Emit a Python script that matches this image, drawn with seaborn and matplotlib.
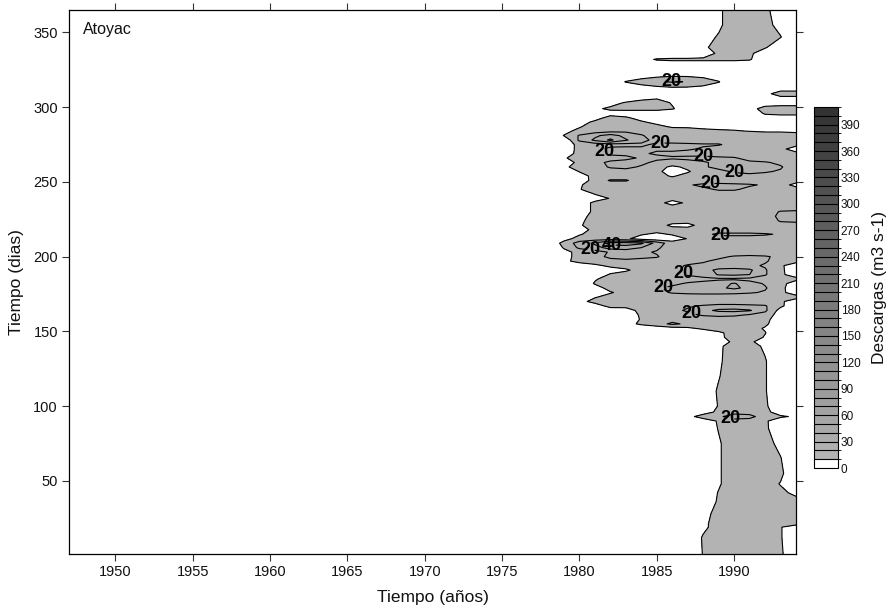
import numpy as np
import matplotlib
matplotlib.use("Agg")
import matplotlib.pyplot as plt
from matplotlib.colors import ListedColormap, BoundaryNorm
import seaborn as sns

# ---------------- data ----------------
anios = [1978, 1979, 1980, 1981, 1982, 1983, 1984, 1985, 1986,
         1987, 1988, 1989, 1990, 1991, 1992, 1993, 1994]

dias = [365, 355, 347, 340, 336, 332, 328, 322, 317, 312, 309, 306, 303,
        299, 296, 293, 290, 287, 284, 281, 278, 275, 272, 269, 266, 263,
        260, 257, 254, 251, 248, 245, 242, 239, 236, 233, 230, 227, 224,
        221, 218, 215, 212, 209, 206, 203, 200, 197, 194, 191, 188, 185,
        182, 179, 176, 173, 170, 167, 164, 161, 158, 155, 152, 149, 146,
        143, 140, 130, 120, 110, 100, 96, 93, 90, 85, 75, 65, 55, 48, 42,
        36, 28, 21, 19, 12, 1]

# discharge (m3 s-1); one row per day in `dias`, one column per year in `anios`
caudal = [
    [0, 0, 0, 0, 0, 0, 0, 0, 0, 0, 0, 8, 16, 16, 13, 3, 0],          # 365
    [0, 0, 0, 0, 0, 0, 0, 0, 0, 0, 0, 8, 16, 16, 14, 6, 0],          # 355
    [0, 0, 0, 0, 0, 0, 0, 0, 0, 0, 6, 11, 16, 16, 16, 10.5, 0],      # 347
    [0, 0, 0, 0, 0, 0, 0, 0, 0, 0, 8, 14, 16, 15, 11, 3, 0],         # 340
    [0, 0, 0, 0, 0, 0, 0, 0, 0, 0, 4, 12, 14, 12, 4, 0, 0],          # 336
    [0, 0, 0, 0, 0, 0, 6, 11, 12, 12, 12, 12, 12, 11, 3, 0, 0],      # 332
    [0, 0, 0, 0, 0, 0, 2, 3, 3, 3, 3, 3, 3, 3, 0, 0, 0],             # 328
    [0, 0, 0, 0, 0, 2, 4, 5, 6, 6, 5, 4, 2, 0, 0, 0, 0],             # 322
    [0, 0, 0, 0, 3, 10.5, 14, 18, 21, 19.5, 16, 10.5, 3, 0, 0, 0, 0],# 317
    [0, 0, 0, 0, 0, 2, 4, 5, 6, 6, 5, 4, 2, 0, 0, 6, 6],             # 312
    [0, 0, 0, 0, 0, 0, 0, 0, 0, 0, 0, 0, 0, 0, 6, 16, 16],           # 309
    [0, 0, 0, 0, 0, 3, 7, 9, 5, 2, 0, 0, 0, 0, 0, 6, 6],             # 306
    [0, 0, 0, 0, 6, 11, 14, 15, 9, 4, 0, 0, 0, 0, 4, 4, 4],          # 303
    [0, 0, 0, 8, 12, 13, 14, 14, 11, 4, 0, 0, 0, 6, 14, 16, 16],     # 299
    [0, 0, 0, 2, 6, 5, 3, 3, 2, 0, 0, 0, 0, 5, 11, 12, 12],          # 296
    [0, 0, 0, 6, 13, 11, 7, 4, 3, 2, 2, 2, 2, 3, 7, 7, 7],           # 293
    [0, 0, 6, 12, 16, 15, 11, 8, 6, 5, 5, 5, 5, 5, 5, 5, 5],         # 290
    [0, 3, 9, 15, 16, 15, 14, 12, 9, 9, 8, 8, 8, 8, 8, 8, 8],        # 287
    [0, 7, 13, 15, 17, 18, 16, 15, 14, 13, 12, 11, 10.5, 9.8, 9, 9, 8],  # 284
    [0, 10.5, 21, 28, 34, 27, 21, 15, 14, 14, 14, 14, 14, 14, 14, 14, 14],  # 281
    [0, 2, 22, 32, 42, 31, 24, 16, 14, 14, 14, 14, 14, 14, 14, 14, 14],     # 278
    [0, 4, 13, 15, 16, 17, 18, 22, 23, 22, 21, 21, 16, 14, 14, 14, 14],     # 275
    [0, 4, 13, 17, 23, 23, 22, 21, 22, 21, 19, 15, 14, 14, 14, 14, 3],      # 272
    [0, 5, 13, 16, 22, 22, 21, 19, 18, 17, 16, 14, 14, 14, 14, 14, 14],     # 269
    [0, 9, 14, 15, 16, 18, 21, 22, 21, 22, 23, 22, 21, 16, 14, 14, 14],     # 266
    [0, 4, 13, 17, 22, 23, 22, 18, 16, 17, 19, 22, 23, 22, 21, 18, 14],     # 263
    [0, 8, 14, 16, 21, 22, 19, 14, 8, 12, 19, 22, 24, 23, 22, 21, 14],      # 260
    [0, 3, 10.5, 14, 16, 17, 15, 13, 4, 9, 15, 18, 21, 22, 21, 19, 14],     # 257
    [0, 0, 6, 13, 14, 14, 14, 13, 9, 13, 14, 16, 17, 18, 17, 16, 14],       # 254
    [0, 0, 4, 14, 21, 21, 15, 14, 14, 14, 14, 14, 14, 14, 14, 14, 14],      # 251
    [0, 1, 9, 14, 14, 14, 14, 14, 16, 19, 22, 23, 22, 21, 19, 14, 7],       # 248
    [0, 2, 9.5, 14, 14, 14, 14, 14, 14, 15, 18, 21, 21, 18, 16, 14, 14],    # 245
    [0, 0, 4, 10.5, 14, 14, 14, 14, 14, 14, 14, 16, 16, 15, 14, 14, 14],    # 242
    [0, 0, 1, 6, 10.5, 14, 14, 14, 14, 14, 14, 14, 14, 14, 14, 14, 14],     # 239
    [0, 0, 5, 12, 14, 14, 14, 14, 6, 12, 14, 14, 14, 14, 14, 14, 14],       # 236
    [0, 0, 5, 12, 14, 14, 14, 14, 14, 14, 14, 14, 14, 14, 14, 14, 14],      # 233
    [0, 0, 5, 12, 14, 14, 14, 14, 14, 14, 14, 14, 14, 14, 14, 21, 22],      # 230
    [0, 0, 6, 14, 14, 14, 14, 14, 14, 14, 14, 14, 14, 14, 16, 22, 23],      # 227
    [0, 0, 8, 14, 14, 14, 14, 14, 14, 14, 14, 14, 14, 14, 14, 21, 22],      # 224
    [0, 0, 9, 14, 14, 14, 14, 14, 8, 7, 14, 14, 14, 14, 14, 16, 16],        # 221
    [0, 0, 4, 14, 14, 14, 14, 14, 14, 14, 14, 14, 14, 14, 14, 14, 14],      # 218
    [0, 0, 9, 14, 14, 14, 11, 8, 11, 14, 17, 22, 22, 22, 21, 19, 16],       # 215
    [0, 6, 14, 14, 14, 12, 5, 3, 5, 10.5, 14, 16, 16, 16, 16, 16, 14],      # 212
    [0, 14, 24, 32, 44, 44, 42, 26, 14, 14, 14, 14, 14, 14, 14, 14, 14],    # 209
    [0, 11, 22, 26, 34, 36, 30, 22, 14, 14, 14, 14, 14, 14, 14, 14, 14],    # 206
    [0, 7, 13, 16, 21, 22, 22, 19, 14, 14, 14, 14, 14, 14, 14, 14, 14],     # 203
    [0, 6, 14, 17, 22, 23, 22, 21, 14, 14, 16, 18, 21, 22, 21, 18, 14],     # 200
    [0, 7, 14, 15, 17, 18, 17, 15, 14, 16, 19, 22, 22, 22, 21, 16, 14],     # 197
    [0, 0, 3, 8, 12, 14, 14, 14, 17, 21, 22, 22, 23, 22, 19, 12, 3],        # 194
    [0, 0, 0, 2, 6, 8.5, 14, 14, 18, 22, 25, 33, 34, 32, 21, 12, 4],        # 191
    [0, 0, 2, 4, 11, 14, 14, 14, 16, 21, 23, 31, 32, 30, 21, 12, 5],        # 188
    [0, 0, 3, 9, 14, 14, 14, 14, 14, 16, 18, 18, 18, 17, 15, 13, 13],       # 185
    [0, 0, 1, 11, 14, 14, 14, 15, 18, 21, 22, 26, 31, 24, 19, 14, 4],       # 182
    [0, 0, 2, 5, 14, 14, 14, 19, 22, 23, 24, 28, 32, 27, 21, 13, 3],        # 179
    [0, 0, 0, 3, 9, 14, 14, 17, 21, 22, 22, 22, 22, 21, 19, 13, 4],         # 176
    [0, 0, 2, 9, 14, 14, 14, 14, 14, 15, 16, 16, 15, 14, 14, 14, 14],       # 173
    [0, 0, 6, 14, 14, 14, 14, 14, 14, 14, 14, 14, 14, 14, 14, 12, 4],       # 170
    [0, 0, 0, 4, 14, 14, 14, 14, 16, 19, 21, 23, 23, 22, 21, 12, 3],        # 167
    [0, 0, 0, 0, 3, 4, 14, 14, 18, 21, 27, 32, 33, 31, 22, 6, 3],           # 164
    [0, 0, 0, 0, 0, 2, 12, 14, 15, 18, 21, 23, 22, 19, 16, 5, 2],           # 161
    [0, 0, 0, 0, 0, 3, 11, 14, 16, 17, 15, 14, 14, 14, 13, 4, 1],           # 158
    [0, 0, 0, 0, 0, 6, 12, 16, 22, 18, 15, 14, 14, 14, 12, 3, 0],           # 155
    [0, 0, 0, 0, 0, 0, 2, 4, 6, 8, 12, 15, 15, 14, 9, 0, 0],                # 152
    [0, 0, 0, 0, 0, 0, 0, 0, 2, 3, 3, 8, 14, 15, 10.5, 2, 0],               # 149
    [0, 0, 0, 0, 0, 0, 0, 0, 0, 2, 4, 7, 15, 16, 9, 0, 0],                  # 146
    [0, 0, 0, 0, 0, 0, 0, 0, 0, 0, 2, 5, 12, 12, 5, 0, 0],                  # 143
    [0, 0, 0, 0, 0, 0, 0, 0, 0, 0, 2, 8, 15, 15, 8, 0, 0],                  # 140
    [0, 0, 0, 0, 0, 0, 0, 0, 0, 0, 2, 8.5, 15, 15, 11, 0, 0],               # 130
    [0, 0, 0, 0, 0, 0, 0, 0, 0, 0, 3, 9.5, 15, 15, 11, 0, 0],               # 120
    [0, 0, 0, 0, 0, 0, 0, 0, 0, 0, 5, 11, 15, 15, 11, 0, 0],                # 110
    [0, 0, 0, 0, 0, 0, 0, 0, 0, 0, 4, 10.5, 15, 15, 12, 1, 0],              # 100
    [0, 0, 0, 0, 0, 0, 0, 0, 0, 0, 6, 12, 16, 16, 14, 3, 0],                # 96
    [0, 0, 0, 0, 0, 0, 0, 0, 0, 7, 14, 18, 25, 23, 15, 12, 8],              # 93
    [0, 0, 0, 0, 0, 0, 0, 0, 0, 0, 5, 11, 16, 16, 12, 2, 0],                # 90
    [0, 0, 0, 0, 0, 0, 0, 0, 0, 0, 4, 10.5, 15, 15, 12, 3, 0],              # 85
    [0, 0, 0, 0, 0, 0, 0, 0, 0, 0, 3, 9, 15, 15, 14, 7, 0],                 # 75
    [0, 0, 0, 0, 0, 0, 0, 0, 0, 0, 3, 9, 15, 15, 14, 10.5, 0],              # 65
    [0, 0, 0, 0, 0, 0, 0, 0, 0, 0, 3, 9, 15, 15, 15, 12, 2],                # 55
    [0, 0, 0, 0, 0, 0, 0, 0, 0, 0, 3, 9, 15, 15, 14, 9.5, 2],               # 48
    [0, 0, 0, 0, 0, 0, 0, 0, 0, 0, 4, 10.5, 15, 15, 14, 12, 8],             # 42
    [0, 0, 0, 0, 0, 0, 0, 0, 0, 0, 5, 11, 15, 15, 14, 14, 13],              # 36
    [0, 0, 0, 0, 0, 0, 0, 0, 0, 0, 7, 13, 15, 15, 14, 14, 14],              # 28
    [0, 0, 0, 0, 0, 0, 0, 0, 0, 1, 8, 14, 15, 15, 14, 14, 14],              # 21
    [0, 0, 0, 0, 0, 0, 0, 0, 0, 1, 8, 14, 15, 15, 14, 11, 0],               # 19
    [0, 0, 0, 0, 0, 0, 0, 0, 0, 2, 11, 14, 15, 15, 14, 11, 0],              # 12
    [0, 0, 0, 0, 0, 0, 0, 0, 0, 2, 10.5, 14, 15, 15, 14, 12, 0],            # 1
]

niveles = list(range(0, 420, 10))          # contour / colour levels
ticks_barra = list(range(0, 400, 30))      # colour-bar tick labels
ticks_x = [1950, 1955, 1960, 1965, 1970, 1975, 1980, 1985, 1990]
ticks_y = [50, 100, 150, 200, 250, 300, 350]

# label anchor points (year, day) for the contour labels
etiquetas_20 = [(1985.97, 317.2), (1981.58, 269.7), (1985.26, 275.7),
                (1988.03, 266.1), (1990.0, 258.7), (1988.48, 247.7),
                (1989.1, 214.2), (1980.74, 207.6), (1986.7, 189.5),
                (1985.45, 178.8), (1987.26, 162.8), (1989.77, 92.6)]
etiquetas_40 = [(1982.1, 207.6)]

# ---------------- figure ----------------
sns.set_style("ticks")
plt.rcParams["font.family"] = ["Liberation Sans", "DejaVu Sans"]
plt.rcParams["text.color"] = "black"
plt.rcParams["axes.labelcolor"] = "black"
plt.rcParams["xtick.color"] = "black"
plt.rcParams["ytick.color"] = "black"

fig = plt.figure(figsize=(8.93, 6.13), dpi=100)
ax = fig.add_axes([0.0773, 0.0962, 0.8141, 0.8874])
cax = fig.add_axes([0.9115, 0.2365, 0.0269, 0.5889])

X, Y = np.meshgrid(np.array(anios, float), np.array(dias, float)[::-1])
Z = np.array(caudal, float)[::-1]

colores = ["#ffffff"] + sns.blend_palette(["#b3b3b3", "#333333"], len(niveles) - 2)
cmap = ListedColormap(colores)
norm = BoundaryNorm(niveles, cmap.N)

cf = ax.contourf(X, Y, Z, levels=niveles, cmap=cmap, norm=norm)
otros = [v for v in niveles[1:] if v not in (20, 40)]
ax.contour(X, Y, Z, levels=otros, colors="k", linewidths=0.8)
cl20 = ax.contour(X, Y, Z, levels=[20], colors="k", linewidths=0.8)
cl40 = ax.contour(X, Y, Z, levels=[40], colors="k", linewidths=0.8)

t20 = ax.clabel(cl20, manual=etiquetas_20, fmt="%d",
                fontsize=13, inline=True, inline_spacing=1)
t40 = ax.clabel(cl40, manual=etiquetas_40, fmt="%d",
                fontsize=13, inline=True, inline_spacing=1)
for t in list(t20) + list(t40):
    t.set_fontweight("bold")
    t.set_color("black")
    t.set_rotation(0)

ax.set_xlim(1947, 1994)
ax.set_ylim(1, 365)
ax.set_xticks(ticks_x)
ax.set_yticks(ticks_y)
ax.tick_params(direction="out", length=5, width=0.8, color="#333333",
               top=True, right=True, labeltop=False, labelright=False,
               labelsize=10.5, pad=3, labelcolor="#111111")
for s in ax.spines.values():
    s.set_linewidth(0.9)
    s.set_color("black")

ax.set_xlabel("Tiempo (años)", fontsize=12.5, labelpad=8, color="#111111")
ax.set_ylabel("Tiempo (dias)", fontsize=12.5, labelpad=7, color="#111111")
ax.text(0.019, 0.978, "Atoyac", transform=ax.transAxes, va="top", ha="left",
        fontsize=11.5, color="#111111")

cb = fig.colorbar(cf, cax=cax, ticks=ticks_barra, drawedges=True)
cb.ax.tick_params(labelsize=8.5, length=0, pad=2, labelcolor="#111111")
cb.outline.set_linewidth(0.8)
cb.outline.set_edgecolor("black")
cb.dividers.set_color("black")
cb.dividers.set_linewidth(0.8)
cb.set_label("Descargas (m3 s-1)", fontsize=12.5, labelpad=8, color="#111111")

fig.savefig("out.png", dpi=100)
